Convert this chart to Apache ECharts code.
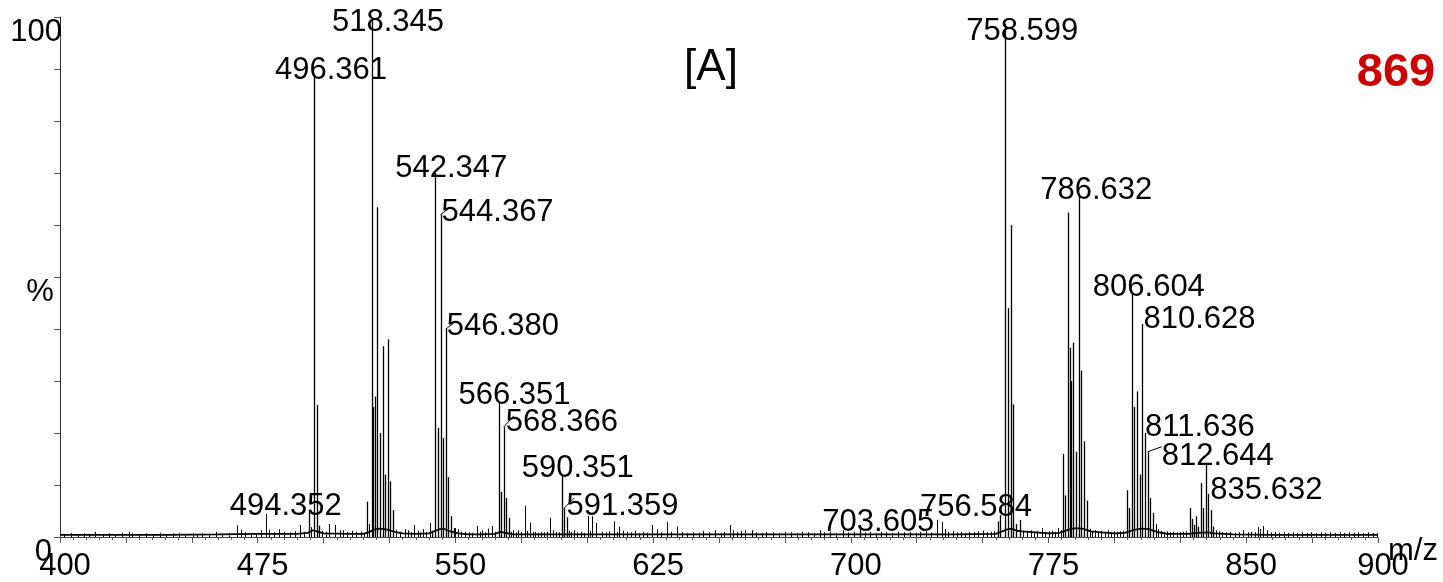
<!DOCTYPE html>
<html><head><meta charset="utf-8">
<script src="https://cdn.jsdelivr.net/npm/echarts@6/dist/echarts.min.js"></script>
<style>html,body{margin:0;padding:0;background:#fff}#c{width:1443px;height:582px}</style>
</head><body><div id="c"></div>
<script>
const FONT = '"Liberation Sans", Arial, sans-serif';

// axis tick labels
const xTickLabels = [400, 475, 550, 625, 700, 775, 850, 900];
const yTickLabels = [0, 100];

// main centroid sticks [m/z, relative intensity %]
const majorPeaks = [
  [494.352, 4.9], [496.361, 89], [497.36, 25.4], [498.36, 2.2],
  [516.35, 6.8], [518.345, 99.5], [518.85, 25], [519.35, 27], [520.35, 63.4], [521.35, 20],
  [522.35, 36.7], [523.35, 12], [524.35, 38], [525.35, 10.7], [526.35, 5.2],
  [541.3, 1.2], [542.347, 70], [543.35, 21], [544.367, 62], [545.37, 19], [546.380, 40],
  [547.38, 11.5], [548.39, 4], [549.4, 1.7],
  [566.351, 26], [567.35, 8.7], [568.366, 21.2], [569.37, 7.5], [570.37, 3.7],
  [590.351, 12], [591.359, 5.6], [592.2, 3.8],
  [703.605, 1.5],
  [755.9, 3.0], [756.584, 4.2], [758.599, 98.6], [759.6, 44], [760.6, 60], [761.6, 25.5],
  [762.6, 2.5], [764.0, 3.3],
  [780.6, 16], [781.3, 8], [782.5, 62.4], [783.0, 36.4], [783.6, 30], [784.4, 37.4],
  [785.6, 16.4], [786.632, 65.5], [787.5, 32], [788.6, 18.4], [789.6, 7],
  [804.6, 9], [805.6, 5.6], [806.604, 47], [807.6, 25], [808.6, 28], [809.6, 12],
  [810.628, 41], [811.636, 20], [812.644, 16.4], [813.6, 7.5], [814.6, 4.6],
  [828.7, 5.6], [829.4, 3.5], [830.1, 2.3], [830.8, 4], [831.8, 2.0], [832.8, 10.4],
  [833.6, 5.6], [834.6, 14], [835.632, 8.3], [836.5, 5.2], [837.5, 2]
];

// small noise sticks [m/z, %]
const noisePeaks = [
  [401.5,0.6],[404.2,0.8],[406.8,0.5],[409.1,0.7],[411.0,0.6],[413.3,1.0],[416.2,0.6],[418.5,0.7],
  [421.0,0.5],[423.4,0.8],[426.2,1.0],[427.5,0.7],[430.1,0.6],[432.6,0.7],[435.3,0.5],[437.8,0.8],
  [440.2,0.6],[442.7,0.7],[445.1,0.8],[447.6,0.6],[450.3,0.7],[452.1,0.5],[453.8,0.8],[456.4,0.6],
  [459.2,1.0],[461.5,0.7],[464.0,0.8],[467.0,2.2],[468.6,1.4],[470.2,0.9],[472.5,0.8],[474.3,0.7],
  [476.1,1.3],[478.0,4.4],[479.4,1.4],[481.0,0.9],[483.2,1.5],[485.0,1.0],[487.1,0.9],[489.0,1.1],
  [491.0,2.3],[492.6,1.0],[495.1,1.9],
  [499.5,1.2],[500.8,1.0],[502.2,2.5],[504.3,2.3],[506.2,1.3],[507.5,1.3],[509.0,1.0],[510.7,1.2],
  [512.4,1.0],[514.3,1.0],[515.2,0.8],[517.2,2.5],[527.6,1.4],[528.9,1.0],[530.9,1.5],[532.1,1.3],
  [533.2,0.9],[534.3,2.3],[535.8,1.2],[536.6,0.9],[537.6,1.5],[538.9,1.0],[540.3,2.7],
  [549.9,1.7],[551.1,1.5],[552.3,1.0],[553.6,1.0],[555.0,0.9],[556.4,0.8],[558.1,2.1],[559.2,1.0],
  [560.2,1.3],[561.3,0.9],[562.3,1.6],[563.8,2.1],[565.0,1.0],
  [571.2,1.0],[572.0,1.3],[573.0,0.9],[573.9,1.3],[575.0,1.0],[576.4,6.0],[577.0,1.2],[578.3,2.8],
  [579.3,1.0],[580.2,1.0],[581.3,0.8],[582.4,1.0],[583.6,0.9],[584.8,1.0],[585.9,3.7],[587.1,1.3],
  [588.3,1.0],[589.2,0.9],[593.2,1.2],[594.0,1.0],[595.1,1.3],[596.3,0.9],[597.5,1.0],[598.7,0.8],
  [600.4,4.0],[601.2,1.1],[601.9,4.0],[603.3,2.7],
  [605.5,1.0],[607.0,0.9],[608.4,1.1],[610.2,3.0],[611.2,1.0],[612.2,2.0],[613.5,1.2],[615.0,1.0],
  [616.6,0.9],[618.0,1.2],[619.6,0.8],[621.0,1.0],[622.8,0.8],[624.5,2.3],[626.4,1.5],[628.0,0.9],
  [630.2,2.9],[631.8,1.0],[634.2,2.0],[636.0,1.0],[637.9,0.8],[640.2,0.9],[642.5,0.8],[644.0,1.2],
  [646.1,0.9],[648.5,1.3],[650.6,0.8],[652.0,1.0],[654.2,2.3],[655.5,1.3],[657.0,1.0],[658.4,1.2],
  [660.0,1.3],[662.4,1.3],[664.0,0.9],[666.5,0.8],[668.0,1.0],[670.5,0.9],[672.8,0.8],[675.0,1.0],
  [677.2,0.9],[679.5,0.8],[681.3,1.0],[683.6,0.9],[686.0,0.8],[688.3,1.3],[690.0,0.9],[692.1,1.0],
  [694.5,0.8],[697.2,1.3],[699.0,0.9],[701.2,1.0],
  [705.5,0.9],[707.2,1.0],[709.4,0.8],[711.6,1.0],[713.5,0.9],[715.8,0.8],[718.0,1.0],[720.3,0.9],
  [722.5,1.0],[724.6,0.8],[726.4,1.0],[728.5,1.1],[730.5,0.9],[732.6,3.3],[734.5,2.9],[735.7,1.5],
  [737.0,1.0],[738.6,1.2],[740.2,0.9],[741.8,1.0],[743.5,0.8],[745.0,1.0],[746.7,0.9],[748.3,1.1],
  [750.0,1.2],[751.6,0.9],[753.2,1.0],[754.5,1.1],
  [765.5,1.2],[766.8,1.0],[768.2,1.3],[769.5,1.0],[770.8,1.2],[772.4,1.7],[773.6,1.0],[775.0,1.1],
  [776.3,1.2],[777.6,1.0],[778.7,1.7],[779.6,1.3],
  [790.7,1.6],[791.6,1.2],[792.8,1.3],[793.9,1.0],[795.1,1.2],[796.3,1.0],[797.5,1.3],[798.6,1.0],
  [799.8,1.1],[801.0,1.0],[802.2,1.1],[803.4,1.2],
  [815.6,2.5],[816.6,1.5],[817.7,1.2],[818.8,1.0],[820.0,1.1],[821.2,0.9],[822.4,1.0],[823.6,0.9],
  [824.8,1.0],[826.0,1.0],[827.3,1.1],
  [838.5,1.3],[839.6,1.1],[841.0,1.0],[842.5,0.9],[844.0,1.0],[845.6,0.8],[847.2,0.9],[848.9,1.3],
  [850.5,0.9],[852.0,1.0],[853.4,0.9],[854.6,1.9],[855.3,1.5],[856.5,2.1],[857.8,1.3],[859.3,0.9],
  [861.0,1.0],[862.6,0.8],[864.2,0.9],[866.0,0.8],[867.7,0.9],[869.4,0.8],[871.2,0.9],[873.0,0.8],
  [874.7,0.9],[876.5,0.8],[878.3,0.9],[880.0,0.8],[881.8,0.9],[883.6,0.8],[885.4,0.9],[887.2,0.8],
  [889.0,0.9],[890.8,0.8],[892.6,0.9],[894.4,0.8],[896.2,0.9],[898.0,0.8],[899.5,0.7]
];

// continuous baseline trace [m/z, %]
const baselineProfile = [
  [400,0.4],[420,0.4],[440,0.4],[460,0.5],[475,0.6],[490,0.6],[494,0.8],[496,1.3],[498,1.0],
  [500,0.7],[510,0.6],[515,0.6],[517,0.9],[519,1.4],[521,1.6],[523,1.5],[525,1.3],[527,1.0],
  [530,0.7],[535,0.6],[540,0.7],[542,1.1],[544,1.5],[546,1.5],[548,1.1],[551,0.7],[555,0.5],
  [560,0.5],[565,0.6],[567,1.0],[569,0.8],[572,0.5],[590,0.5],[600,0.5],[650,0.5],[700,0.5],
  [740,0.5],[755,0.6],[757,1.0],[759,1.4],[761,1.6],[763,1.2],[765,1.1],[770,0.9],[775,0.7],
  [779,0.8],[782,1.3],[785,1.7],[788,1.6],[791,1.1],[795,0.9],[800,0.7],[804,0.8],[807,1.3],
  [810,1.6],[813,1.5],[816,1.0],[820,0.6],[828,0.6],[832,0.8],[835,0.9],[838,0.7],[845,0.5],
  [860,0.4],[900,0.4]
];

// annotated peaks (text = m/z)
const peakLabels = ['494.352','496.361','518.345','542.347','544.367','546.380','566.351','568.366',
  '590.351','591.359','703.605','756.584','758.599','786.632','806.604','810.628','811.636',
  '812.644','835.632'];

// label placement offsets in px relative to peak top: [dx, baseline dy, leader dx, leader dy]
const labelLayout = [
  [-79,5,0,0],[-39,7,0,0],[-40,13,0,0],[-40,6,0,0],[1,8,8,-6],[1,8,8,-6],[-40,4,0,0],[2,6,10,-11],
  [-40,4,0,0],[2,9,10,-10],[-38,4,0,0],[-80,3,0,0],[-39,18,0,0],[-39,5,0,0],[-39,5,0,0],
  [1,6,0,0],[0,5,0,0],[14,15,14,-5],[2,7,0,0]
];

const intensityOf = mz => (majorPeaks.find(p => Math.abs(p[0] - mz) < 1e-6) || [0, 0])[1];
const labelData = peakLabels.map((t, i) => [parseFloat(t), intensityOf(parseFloat(t)), i]);

function stickRenderer(width) {
  return function (params, api) {
    const b = api.coord([api.value(0), 0]);
    const t = api.coord([api.value(0), api.value(1)]);
    const x = Math.round(b[0]) + 0.5;
    return { type: 'line', shape: { x1: x, y1: b[1], x2: x, y2: t[1] },
      style: { stroke: '#000', lineWidth: width } };
  };
}

const chart = echarts.init(document.getElementById('c'), null, { renderer: 'canvas' });
chart.setOption({
  animation: false,
  backgroundColor: '#fff',
  grid: { left: 60, right: 65, top: 17, bottom: 45, containLabel: false, outerBoundsMode: 'none' },
  xAxis: {
    type: 'value', min: 400, max: 900, interval: 25,
    name: 'm/z', nameLocation: 'end', nameGap: 10, nameMoveOverlap: false,
    nameTextStyle: { fontFamily: FONT, fontSize: 31, color: '#000', align: 'left', verticalAlign: 'top', padding: [-1, 0, 0, 0] },
    axisLine: { show: true, lineStyle: { color: '#444', width: 1 } },
    axisTick: { show: true, length: 6, lineStyle: { color: '#555' } },
    minorTick: { show: true, splitNumber: 5, length: 3, lineStyle: { color: '#555' } },
    splitLine: { show: false }, minorSplitLine: { show: false },
    axisLabel: {
      interval: 0, margin: 14, fontFamily: FONT, fontSize: 31, color: '#000', hideOverlap: false,
      padding: [0, 0, 0, 10],
      formatter: v => xTickLabels.includes(v) ? String(v) : ''
    }
  },
  yAxis: {
    type: 'value', min: 0, max: 100, interval: 10,
    name: '%', nameLocation: 'middle', nameRotate: 0, nameGap: 20, nameMoveOverlap: false,
    nameTextStyle: { fontFamily: FONT, fontSize: 31, color: '#000', align: 'center', verticalAlign: 'top' },
    axisLine: { show: true, lineStyle: { color: '#333', width: 1 } },
    axisTick: { show: true, length: 6, lineStyle: { color: '#555' } },
    splitLine: { show: false },
    axisLabel: {
      margin: -2, fontFamily: FONT, fontSize: 31, color: '#000', verticalAlign: 'top',
      formatter: v => yTickLabels.includes(v) ? (v === 0 ? '{z|0}' : String(v)) : '',
      rich: { z: { fontFamily: FONT, fontSize: 31, color: '#000', padding: [0, 10, 0, 0] } }
    }
  },
  graphic: [
    { type: 'text', x: 711, y: 68, style: { text: '[A]', fontFamily: FONT, fontSize: 44, fill: '#000', align: 'center', verticalAlign: 'middle' } },
    { type: 'text', x: 1396, y: 73, style: { text: '869', fontFamily: FONT, fontSize: 47, fontWeight: 'bold', fill: '#cc0000', align: 'center', verticalAlign: 'middle' } }
  ],
  series: [
    { type: 'custom', name: 'noise', data: noisePeaks, encode: { x: 0, y: 1 }, renderItem: stickRenderer(1), z: 2, silent: true },
    { type: 'custom', name: 'peaks', data: majorPeaks, encode: { x: 0, y: 1 }, renderItem: stickRenderer(1.3), z: 3, silent: true },
    { type: 'line', name: 'baseline', data: baselineProfile, showSymbol: false, symbol: 'none',
      lineStyle: { color: '#000', width: 1.8 }, z: 4, silent: true },
    { type: 'custom', name: 'labels', data: labelData, encode: { x: 0, y: 1 }, clip: false, z: 5, silent: true,
      renderItem: function (params, api) {
        const p = api.coord([api.value(0), api.value(1)]);
        const i = api.value(2);
        const L = labelLayout[i];
        const children = [{
          type: 'text', x: p[0] + L[0], y: p[1] + L[1] - 10.5,
          style: { text: peakLabels[i], fontFamily: FONT, fontSize: 31, fill: '#000', align: 'left', verticalAlign: 'middle' }
        }];
        if (L[2] || L[3]) {
          children.push({ type: 'line', shape: { x1: p[0], y1: p[1], x2: p[0] + L[2], y2: p[1] + L[3] },
            style: { stroke: '#000', lineWidth: 1 } });
        }
        return { type: 'group', children: children };
      }
    }
  ]
});
</script></body></html>
